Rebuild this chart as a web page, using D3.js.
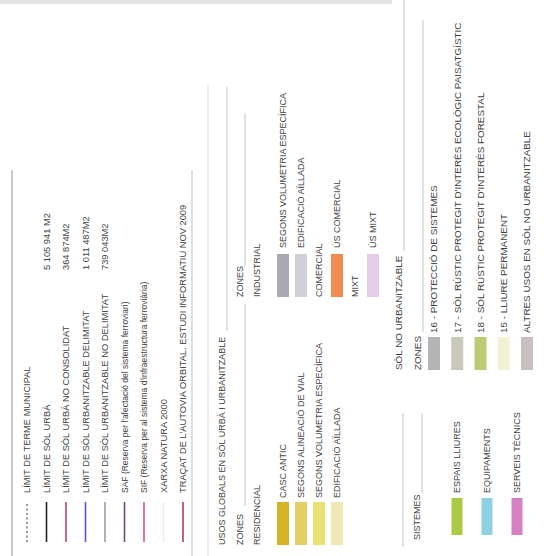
<!DOCTYPE html>
<html><head><meta charset="utf-8">
<script src="https://cdn.jsdelivr.net/npm/d3@7"></script>
<style>
body{margin:0;background:#fff}
svg{display:block}
text{font-family:"Liberation Sans",Arial,sans-serif;font-size:9px;fill:#3f3f3f}
.lb text{font-size:9.3px}
.lb text.mixed{font-size:8.5px}
.snu{font-size:9.9px}
</style>
</head><body>
<svg id="c" width="553" height="556"></svg>
<script>
// ---- data ----
const lineLabels = [
  "LÍMIT DE TERME MUNICIPAL",
  "LÍMIT DE SÒL URBÀ",
  "LÍMIT DE SÒL URBÀ NO CONSOLIDAT",
  "LÍMIT DE SÒL URBANITZABLE DELIMITAT",
  "LÍMIT DE SÒL URBANITZABLE NO DELIMITAT",
  "SAF (Reserva per l'afectació del sistema ferroviari)",
  "SIF (Reserva per al sistema d'infraestructura ferroviària)",
  "XARXA NATURA 2000",
  "TRAÇAT DE L'AUTOVIA ORBITAL. ESTUDI INFORMATIU NOV 2009"
];
const lineValues = ["", "5 105 941 M2", "364 874M2", "1 011 487M2", "739 043M2", "", "", "", ""];
const lineColors = ["#555555", "#222222", "#c2456e", "#5a52c8", "#a09c98", "#6b4c7c", "#d4587a", "#e6f2e6", "#a8405e"];

const usosTitle = "USOS GLOBALS EN SÒL URBÀ I URBANITZABLE";
const zonesLabel = "ZONES";
const resHeader = "RESIDENCIAL";
const resLabels = ["CASC ANTIC", "SEGONS ALINEACIÓ DE VIAL", "SEGONS VOLUMETRIA ESPECÍFICA", "EDIFICACIÓ AÏLLADA"];
const resColors = ["#d6b226", "#e2d066", "#e6e274", "#efe8b6"];

const indRows = ["INDUSTRIAL", "SEGONS VOLUMETRIA ESPECÍFICA", "EDIFICACIÓ AÏLLADA", "COMERCIAL", "ÚS COMERCIAL", "MIXT", "ÚS MIXT"];
const indIsHeader = [true, false, false, true, false, true, false];
const indColors = [null, "#aaaab2", "#d0d0d8", null, "#f08c52", null, "#e6cce6"];

const sisTitle = "SISTEMES";
const sisLabels = ["ESPAIS LLIURES", "EQUIPAMENTS", "SERVEIS TÈCNICS"];
const sisColors = ["#a9ca44", "#8ed2e2", "#d482c4"];

const snuTitle = "SÒL NO URBANITZABLE";
const snuLabels = [
  "16 - PROTECCIÓ DE SISTEMES",
  "17 - SÒL RÚSTIC PROTEGIT D'INTERÈS ECOLÒGIC PAISATGÍSTIC",
  "18 - SÒL RÚSTIC PROTEGIT D'INTERÈS FORESTAL",
  "15 - LLIURE PERMANENT",
  "ALTRES USOS EN SÒL NO URBANITZABLE"
];
const snuColors = ["#b4b4b4", "#c9c9bb", "#bccb74", "#f2f1d6", "#c9bfbf"];

// ---- drawing ----
const W = 553, H = 556;
const svg = d3.select("#c");

// faint strip at the top edge (cut-off section above)
svg.append("rect").attr("x", 0).attr("y", 0).attr("width", 392).attr("height", 4)
  .attr("fill", "#d8d8d8").attr("opacity", 0.7);

// legend frame rotated: u along text, v across
const g = svg.append("g").attr("transform", `translate(0,${H}) rotate(-90)`);
const frame = "#c4c4c4";
function rule(u1, u2, v, col, w) {
  g.append("line").attr("x1", u1).attr("x2", u2).attr("y1", v).attr("y2", v)
    .attr("stroke", col || frame).attr("stroke-width", w || 1);
}
function label(u, vCenter, t, cls) {
  return g.append("text").attr("class", cls || null).attr("x", u).attr("y", vCenter + 3.2).text(t);
}

// ---- line symbols box ----
const lineRow = d3.scaleLinear().domain([0, lineLabels.length - 1]).range([27, 183]);
rule(0, 386, 12, "#c8c8c8", 2);
rule(0, 386, 192, "#c8c8c8", 1.2);
const lb = g.append("g").attr("class", "lb");
const lr = lb.selectAll("g.lr").data(lineLabels).join("g").attr("class", "lr");
lr.append("line")
  .attr("x1", 14).attr("x2", 54)
  .attr("y1", (d, i) => lineRow(i)).attr("y2", (d, i) => lineRow(i))
  .attr("stroke", (d, i) => lineColors[i])
  .attr("stroke-width", (d, i) => i === 0 ? 1.2 : 1.6)
  .attr("stroke-dasharray", (d, i) => i === 0 ? "2,2.5" : null);
lr.append("text").attr("x", 63).attr("y", (d, i) => lineRow(i) + 3.3)
  .attr("class", d => /[a-z]/.test(d) ? "mixed" : null)
  .text(d => d);
lr.append("text").attr("x", 286).attr("y", (d, i) => lineRow(i) + 3.3).text((d, i) => lineValues[i]);

// ---- usos globals box ----
rule(0, 471, 208, "#dcdcdc", 1);
label(11, 222, usosTitle);
rule(225, 469, 227);
label(11, 240, zonesLabel);
rule(50, 252, 245);
label(11, 257, resHeader);
const rowV = d3.scaleLinear().domain([0, 5]).range([283, 373]);
const sw = 12;
g.selectAll("rect.res").data(resLabels).join("rect").attr("class", "res")
  .attr("x", 11).attr("width", 43)
  .attr("y", (d, i) => rowV(i) - sw / 2).attr("height", sw)
  .attr("fill", (d, i) => resColors[i]);
g.selectAll("text.res").data(resLabels).join("text").attr("class", "res")
  .attr("x", 58).attr("y", (d, i) => rowV(i) + 3.2).text(d => d);

// industrial / comercial / mixt column
label(259, 240, zonesLabel);
rule(290, 443, 245);
const indV = i => i === 0 ? 257 : rowV(i - 1);
indRows.forEach((t, i) => {
  if (indIsHeader[i]) {
    label(259, indV(i), t);
  } else {
    g.append("rect").attr("x", 259).attr("width", 43)
      .attr("y", indV(i) - sw / 2).attr("height", sw).attr("fill", indColors[i]);
    label(308, indV(i), t);
  }
});

// ---- sistemes box ----
rule(9, 143, 403);
label(16, 417, sisTitle);
rule(63, 143, 422);
const sisV = d3.scaleLinear().domain([0, 2]).range([457, 517]);
g.selectAll("rect.sis").data(sisLabels).join("rect").attr("class", "sis")
  .attr("x", 21).attr("width", 37)
  .attr("y", (d, i) => sisV(i) - 5.5).attr("height", 11)
  .attr("fill", (d, i) => sisColors[i]);
g.selectAll("text.sis").data(sisLabels).join("text").attr("class", "sis")
  .attr("x", 63).attr("y", (d, i) => sisV(i) + 3.2).text(d => d);

// ---- sòl no urbanitzable box ----
label(186, 399, snuTitle, "snu");
rule(305, 556, 404);
label(186, 418, zonesLabel, "snu");
rule(224, 536, 423);
const snuV = d3.scaleLinear().domain([0, 4]).range([434, 527]);
g.selectAll("rect.snuR").data(snuLabels).join("rect").attr("class", "snuR")
  .attr("x", 186).attr("width", 33)
  .attr("y", (d, i) => snuV(i) - 6).attr("height", 12)
  .attr("fill", (d, i) => snuColors[i]);
g.selectAll("text.snuT").data(snuLabels).join("text").attr("class", "snu snuT")
  .attr("x", 223).attr("y", (d, i) => snuV(i) + 3.4).text(d => d);
</script>
</body></html>
